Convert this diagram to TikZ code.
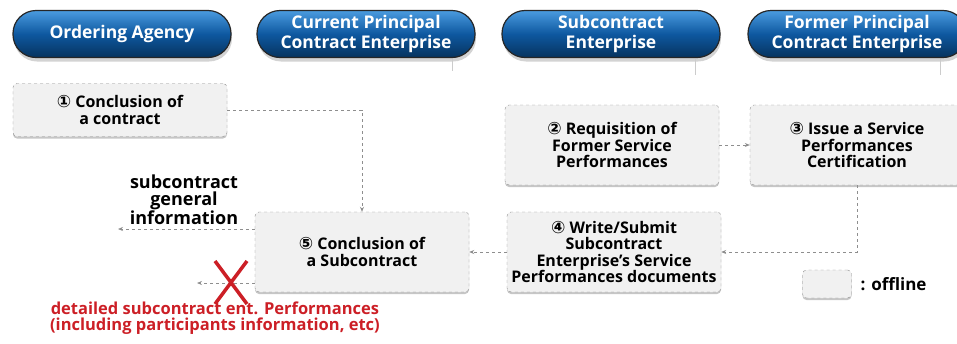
\documentclass[tikz,border=0pt]{standalone}
\usepackage{fontspec}
\setmainfont{Open Sans}
\newfontfamily\circfont{DejaVu Sans}
\usetikzlibrary{arrows.meta,shadows}
\definecolor{pilltop}{HTML}{4A9BDF}
\definecolor{pillmid}{HTML}{0E58A0}
\definecolor{pillbot}{HTML}{06335E}
\definecolor{boxfill}{HTML}{F1F1F1}
\definecolor{dashgray}{HTML}{8E8E8E}
\definecolor{xred}{HTML}{CC1F26}
\newcommand{\cnum}[1]{{\circfont\fontsize{17}{17}\selectfont #1}}
\begin{document}
\begin{tikzpicture}[x=1pt, y=-1pt,
	pill/.style={draw=black!85, line width=1.2pt, rounded corners=23pt,
		minimum width=218pt, minimum height=47pt, top color=pilltop,
		bottom color=pillbot, middle color=pillmid, text=white, align=center,
		font=\fontsize{17.5}{19.5}\selectfont\bfseries,
		drop shadow={shadow xshift=1pt, shadow yshift=-4pt, opacity=.35}},
	offbox/.style={draw=dashgray, dashed, fill=boxfill, rounded corners=4pt,
		minimum width=214pt, minimum height=80pt, align=center,
		font=\fontsize{16}{16.5}\selectfont\bfseries,
		drop shadow={shadow xshift=0pt, shadow yshift=-2pt, opacity=.45}},
	flow/.style={draw=dashgray, dashed, line width=.7pt,
		-{Stealth[length=5pt,width=4pt]}},
	tick/.style={draw=black!20, line width=.6pt},
	lbl/.style={align=center, font=\fontsize{18}{16.5}\selectfont\bfseries}]
	\useasboundingbox (0,0) rectangle (957,343);
	\clip (0,0) rectangle (957,343);
	%headers
	\node[pill] (agency)  at (122,34) {Ordering Agency};
	\node[pill] (curr)    at (366,34) {Current Principal\\Contract Enterprise};
	\node[pill] (sub)     at (611,34) {Subcontract\\Enterprise};
	\node[pill] (former)  at (857,34) {Former Principal\\Contract Enterprise};
	\draw[tick] (452,59) -- (452,71);
	\draw[tick] (695,59) -- (695,75);
	\draw[tick] (940,59) -- (940,75);
	%offline steps
	\node[offbox, minimum height=53pt] (b1) at (120,110) {\cnum{①} Conclusion of\\a contract};
	\node[offbox] (b2) at (612,145) {\cnum{②} Requisition of\\Former Service\\Performances};
	\node[offbox] (b3) at (857,145) {\cnum{③} Issue a Service\\Performances\\Certification};
	\node[offbox] (b4) at (614,252) {\cnum{④} Write/Submit\\Subcontract\\Enterprise’s Service\\Performances documents};
	\node[offbox] (b5) at (362,252) {\cnum{⑤} Conclusion of\\a Subcontract};
	\node[offbox, minimum width=49pt, minimum height=28pt] (leg) at (827,284) {};
	\node[anchor=west, font=\fontsize{17}{18}\selectfont\bfseries] (legtxt) at (857,284) {: offline};
	%flows
	\draw[flow] (b1) -| (b5);
	\draw[flow] (b2) -- (b3);
	\draw[flow] (b3) |- (b4);
	\draw[flow] (b4) -- (b5);
	\coordinate (gen) at (118,229);
	\coordinate (det) at (197,283);
	\draw[flow] (b5.west |- gen) -- (gen);
	\draw[flow] (b5.west |- det) -- (det);
	\node[lbl] (gentxt) at (184,200) {subcontract\\general\\information};
	\node[lbl, text=xred, font=\fontsize{16.5}{15.5}\selectfont\bfseries] (dettxt) at (215,318)
		{detailed subcontract ent. Performances\\(including participants information, etc)};
	%red cross
	\draw[xred, line width=3.5pt] (215,261) -- (247,304) (247,261) -- (215,304);
\end{tikzpicture}
\end{document}
